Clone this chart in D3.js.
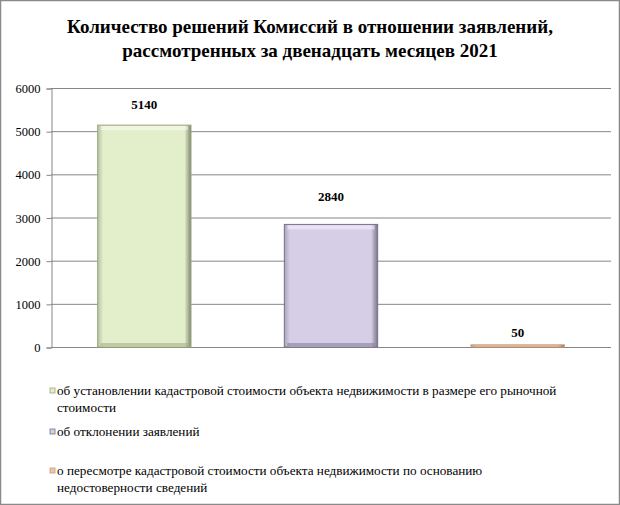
<!DOCTYPE html>
<html>
<head>
<meta charset="utf-8">
<script src="https://cdn.jsdelivr.net/npm/d3@7"></script>
</head>
<body style="margin:0;background:#fff">
<script>
const categories = [
  "об установлении кадастровой стоимости объекта недвижимости в размере его рыночной стоимости",
  "об отклонении заявлений",
  "о пересмотре кадастровой стоимости объекта недвижимости по основанию недостоверности сведений"
];
const values = [5140, 2840, 50];
const yTicks = [0, 1000, 2000, 3000, 4000, 5000, 6000];
const legendLines = [
  ["об установлении кадастровой стоимости объекта недвижимости в размере его рыночной", "стоимости"],
  ["об отклонении заявлений"],
  ["о пересмотре кадастровой стоимости объекта недвижимости по основанию", "недостоверности сведений"]
];
const fills = ["#e3efca", "#d6cee6", "#efc6a4"];
const edges = ["#9ba67c", "#77708a", "#c99a78"];
const labelGap = [16, 23, 8];

const FONT = "'Liberation Serif'";
const W = 620, H = 505;
const svg = d3.select("body").append("svg")
    .attr("width", W)
    .attr("height", H)
    .style("display", "block")
    .style("font-family", FONT);

svg.append("rect")
    .attr("x", 0.5).attr("y", 0.5)
    .attr("width", W - 1).attr("height", H - 1)
    .attr("fill", "#fff")
    .attr("stroke", "#8a8a8a")
    .attr("stroke-width", 1.5);

// title
const title = ["Количество решений Комиссий в отношении заявлений,", "рассмотренных за двенадцать месяцев 2021"];
svg.append("text")
    .attr("x", 310).attr("y", 33)
    .attr("text-anchor", "middle")
    .attr("font-size", 19)
    .attr("font-weight", "bold")
    .style("font-family", FONT)
    .selectAll("tspan")
    .data(title)
    .join("tspan")
    .attr("x", 310)
    .attr("dy", (d, i) => i ? 24 : 0)
    .text(d => d);

const plotL = 51, plotR = 611, plotT = 88, plotB = 347;

const x = d3.scaleBand()
    .domain(categories)
    .range([plotL, plotR])
    .paddingInner(0.5)
    .paddingOuter(0.25);

const y = d3.scaleLinear()
    .domain([0, 6000])
    .range([plotB, plotT]);

// gridlines
svg.append("g")
    .selectAll("line")
    .data(yTicks)
    .join("line")
    .attr("x1", plotL).attr("x2", plotR)
    .attr("y1", d => y(d) + 0.5).attr("y2", d => y(d) + 0.5)
    .attr("stroke", "#868686");

const yAxis = svg.append("g")
    .attr("transform", `translate(${plotL + 0.5},0.5)`)
    .call(d3.axisLeft(y).tickValues(yTicks).tickSize(5).tickPadding(6).tickFormat(d3.format("d")));
yAxis.select(".domain").attr("stroke", "#868686");
yAxis.selectAll(".tick line").attr("stroke", "#868686");
yAxis.selectAll("text")
    .attr("font-size", 12.5)
    .attr("fill", "#000")
    .style("font-family", FONT);

// gradients for bevel look
const defs = svg.append("defs");
fills.forEach((c, i) => {
  const g = defs.append("linearGradient").attr("id", "g" + i)
      .attr("x1", 0).attr("x2", 1).attr("y1", 0).attr("y2", 0);
  g.append("stop").attr("offset", "0%").attr("stop-color", d3.color(c).darker(0.6));
  g.append("stop").attr("offset", "6%").attr("stop-color", c);
  g.append("stop").attr("offset", "93%").attr("stop-color", c);
  g.append("stop").attr("offset", "100%").attr("stop-color", d3.color(c).darker(1.6));
});

const bars = svg.append("g")
    .selectAll("g")
    .data(values)
    .join("g");

bars.append("rect")
    .attr("x", (d, i) => x(categories[i]))
    .attr("y", d => y(d))
    .attr("width", x.bandwidth())
    .attr("height", d => Math.max(2, plotB - y(d)))
    .attr("fill", (d, i) => `url(#g${i})`)
    .attr("stroke", (d, i) => edges[i])
    .attr("stroke-width", 1);

// top highlight and bottom shadow
bars.filter(d => plotB - y(d) > 10).append("rect")
    .attr("x", (d, i) => x(categories[i]) + 3)
    .attr("y", d => y(d) + 1)
    .attr("width", x.bandwidth() - 6)
    .attr("height", 4)
    .attr("fill", "#fff")
    .attr("opacity", 0.45);
bars.filter(d => plotB - y(d) > 10).append("rect")
    .attr("x", (d, i) => x(categories[i]) + 3)
    .attr("y", plotB - 4)
    .attr("width", x.bandwidth() - 6)
    .attr("height", 3)
    .attr("fill", (d, i) => edges[i])
    .attr("opacity", 0.5);

bars.append("text")
    .attr("x", (d, i) => x(categories[i]) + x.bandwidth() / 2)
    .attr("y", (d, i) => y(d) - labelGap[i])
    .attr("text-anchor", "middle")
    .attr("font-size", 13)
    .attr("font-weight", "bold")
    .style("font-family", FONT)
    .text(d => d);

// legend
const legendY = [395, 436, 475];
const leg = svg.append("g")
    .selectAll("g")
    .data(legendLines)
    .join("g")
    .attr("transform", (d, i) => `translate(0,${legendY[i]})`);

leg.append("rect")
    .attr("x", 50).attr("y", -7)
    .attr("width", 5).attr("height", 5)
    .attr("fill", (d, i) => fills[i])
    .attr("stroke", (d, i) => edges[i])
    .attr("stroke-width", 0.8);

leg.append("text")
    .attr("font-size", 13.2)
    .attr("fill", "#000")
    .style("font-family", FONT)
    .selectAll("tspan")
    .data(d => d)
    .join("tspan")
    .attr("x", 57)
    .attr("dy", (d, i) => i ? 17 : 0)
    .text(d => d);
</script>
</body>
</html>
